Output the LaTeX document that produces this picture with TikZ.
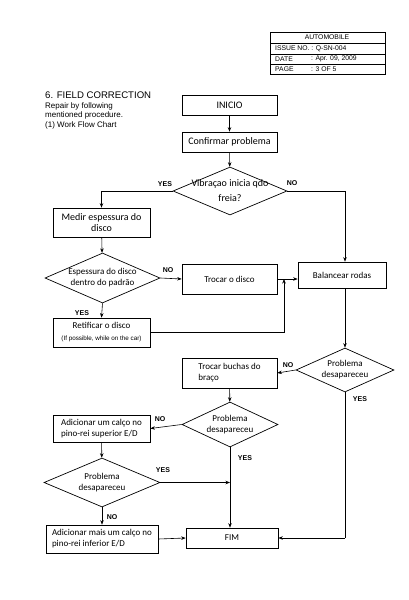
\documentclass[tikz,border=0pt]{standalone}
\usepackage{fontspec}
\setmainfont{Liberation Sans}
\newfontfamily\calfont{Carlito}
\usetikzlibrary{shapes.geometric,arrows.meta}

\begin{document}
\begin{tikzpicture}[
        x=1pt, y=-1pt,
        >={Stealth[length=4.5pt,width=3.5pt]},
        proc/.style={draw, line width=0.7pt, align=center, inner sep=1pt, font=\calfont\fontsize{9}{11}\selectfont},
        dec/.style={draw, diamond, line width=0.7pt, inner sep=0pt},
        dtxt/.style={align=center, inner sep=0pt, font=\calfont\fontsize{9}{11}\selectfont},
        yn/.style={font=\bfseries\fontsize{7}{8}\selectfont, inner sep=0pt},
        hd/.style={font=\fontsize{6.8}{8}\selectfont, inner sep=0pt},
        flow/.style={->, line width=0.6pt}
    ]
        \fill[white] (0,0) rectangle (409,600);
        \useasboundingbox (0,0) rectangle (409,600);

        \draw[line width=0.6pt] (270,32) rectangle (385,74);
        \draw[line width=0.5pt] (270,43) -- (385,43) (270,54) -- (385,54) (270,64) -- (385,64);
        \node[hd] (hauto) at (327,37.5) {AUTOMOBILE};
        \node[hd, anchor=west] (hiss)  at (275,48.5) {ISSUE NO. : Q-SN-004};
        \node[hd, anchor=west] (hdate) at (275,59) {DATE};
        \node[hd, anchor=west] (hdv)   at (311,59) {: Apr. 09, 2009};
        \node[hd, anchor=west] (hpage) at (275,69) {PAGE};
        \node[hd, anchor=west] (hpv)   at (311,69) {: 3 OF 5};

        \node[anchor=west, inner sep=0pt, font=\fontsize{9.6}{11}\selectfont] (ttl) at (45,95) {6. FIELD CORRECTION};
        \node[anchor=north west, align=left, inner sep=0pt, font=\fontsize{8}{9.5}\selectfont] (intro) at (45,102.5)
            {Repair by following\\mentioned procedure.\\(1) Work Flow Chart};

        \node[proc, minimum width=95pt, minimum height=20pt, font=\calfont\fontsize{10}{12}\selectfont] (ini)  at (229.5,105) {INICIO};
        \node[proc, minimum width=95pt, minimum height=20pt, font=\calfont\fontsize{10}{12}\selectfont] (conf) at (229.5,142) {Confirmar problema};
        \node[dec, minimum width=114pt, minimum height=48pt,
              label={[dtxt, font=\calfont\fontsize{10}{15}\selectfont]center:{Vibraçao inicia qdo\\freia?}}] (q1) at (230,191) {};
        \node[proc, minimum width=97pt, minimum height=29pt, font=\calfont\fontsize{10}{11.5}\selectfont] (med) at (101.5,222.5) {Medir espessura do\\disco};
        \node[dec, minimum width=115pt, minimum height=50pt,
              label={[dtxt]center:{Espessura do disco\\dentro do padrão}}] (q2) at (102.5,278) {};
        \node[proc, minimum width=95pt, minimum height=30pt] (troc) at (229.5,279) {Trocar o disco};
        \node[proc, minimum width=88pt, minimum height=26pt] (bal)  at (342,275) {Balancear rodas};
        \node[proc, minimum width=97pt, minimum height=29pt] (ret)  at (101.5,332.5)
            {Retificar o disco\\[1pt]{\normalfont\fontsize{6.3}{7}\selectfont (If possible, while on the car)}};
        \node[dec, minimum width=98pt, minimum height=44pt,
              label={[dtxt]center:{Problema\\desapareceu}}] (q3) at (345,370) {};
        \node[proc, minimum width=95pt, minimum height=30pt, align=left] (buch) at (229.5,373) {Trocar buchas do\\braço};
        \node[dec, minimum width=96pt, minimum height=45pt,
              label={[dtxt]center:{Problema\\desapareceu}}] (q4) at (230,424.5) {};
        \node[proc, minimum width=97pt, minimum height=27pt, align=left] (add1) at (101.5,428.5) {Adicionar um calço no\\pino-rei superior E/D};
        \node[dec, minimum width=116pt, minimum height=49pt,
              label={[dtxt]center:{Problema\\desapareceu}}] (q5) at (102,482.5) {};
        \node[proc, minimum width=112pt, minimum height=28pt, align=left] (add2) at (102,539) {Adicionar mais um calço no\\pino-rei inferior E/D};
        \node[proc, minimum width=92pt, minimum height=20pt] (fim) at (232,538) {FIM};

        \coordinate (jn) at (284,279);
        \coordinate (yb) at (345,538);

        \draw[flow] (ini) -- (conf);
        \draw[flow] (conf) -- (q1);
        \draw[flow] (q1.west) -| (med.north);
        \draw[flow] (q1.east) -| (q3.north |- bal.north);
        \draw[flow] (med) -- (q2);
        \draw[flow] (q2.east) -- (troc.west);
        \draw[flow] (q2.south) -- (ret.north);
        \draw[flow] (troc.east) -- (bal.west |- troc.east);
        \draw[flow] (ret.east) -| (jn);
        \draw[flow] (q3.north |- bal.south) -- (q3.north);
        \draw[flow] (q3.west) -- (buch.east);
        \draw[line width=0.6pt] (q3.south) -- (yb);
        \draw[flow] (yb) -- (fim.east);
        \draw[flow] (buch) -- (q4);
        \draw[flow] (q4.west) -- (add1.east);
        \draw[flow] (q4.south) -- (q4.south |- fim.north);
        \draw[flow] (add1) -- (q5);
        \draw[flow] (q5.east) -- (q4.south |- q5.east);
        \draw[flow] (q5.south) -- (add2.north);
        \draw[flow] (add2.east) -- (fim.west);

        \node[yn] (y1) at (165,184) {YES};
        \node[yn] (n1) at (292,183) {NO};
        \node[yn] (n2) at (168,270) {NO};
        \node[yn] (y2) at (82,313) {YES};
        \node[yn] (n3) at (288,365) {NO};
        \node[yn] (y3) at (360,399) {YES};
        \node[yn] (n4) at (160,419) {NO};
        \node[yn] (y4) at (245,458) {YES};
        \node[yn] (y5) at (163,470) {YES};
        \node[yn] (n5) at (112,517) {NO};
    \end{tikzpicture}
\end{document}
